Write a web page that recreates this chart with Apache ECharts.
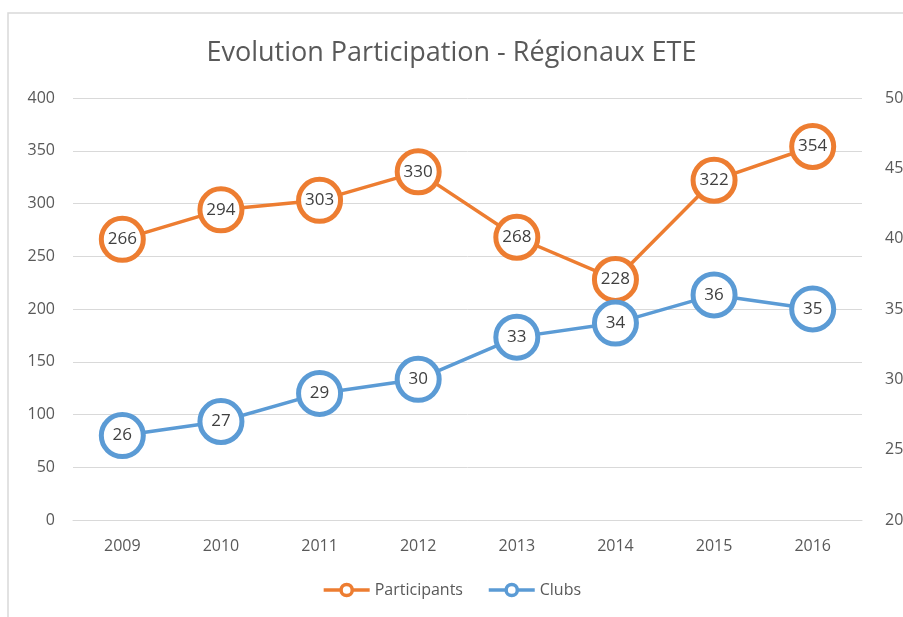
<!DOCTYPE html>
<html>
<head>
<meta charset="utf-8">
<script src="https://cdn.jsdelivr.net/npm/echarts@6/dist/echarts.min.js"></script>
<style>
  html, body { margin: 0; padding: 0; background: #fff; }
  #chart { width: 903px; height: 617px; }
</style>
</head>
<body>
<div id="chart"></div>
<script>
  // années
  var years = ['2009', '2010', '2011', '2012', '2013', '2014', '2015', '2016'];
  // nombre de participants (axe gauche)
  var participants = [266, 294, 303, 330, 268, 228, 322, 354];
  // nombre de clubs (axe droit)
  var clubs = [26, 27, 29, 30, 33, 34, 36, 35];

  var font = '"Open Sans", sans-serif';
  var txt = '#595959';

  var chart = echarts.init(document.getElementById('chart'));
  chart.setOption({
    animation: false,
    graphic: [{
      type: 'rect',
      shape: { x: 8, y: 13, width: 1000, height: 700 },
      style: { fill: 'none', stroke: '#d9d9d9', lineWidth: 1.5 },
      silent: true
    }],
    title: {
      text: 'Evolution Participation - Régionaux ETE',
      left: 'center',
      top: 35,
      textStyle: { fontFamily: font, fontSize: 27, fontWeight: 'normal', color: txt }
    },
    legend: {
      bottom: 14,
      left: 'center',
      itemWidth: 46,
      itemHeight: 14,
      itemGap: 24,
      textStyle: { fontFamily: font, fontSize: 16, color: txt },
      lineStyle: { width: 3.5 },
      itemStyle: { borderWidth: 3.5 },
      data: ['Participants', 'Clubs']
    },
    grid: { left: 73, right: 41, top: 98, bottom: 97, containLabel: false, outerBoundsMode: 'none' },
    xAxis: {
      type: 'category',
      data: years,
      boundaryGap: true,
      axisLine: { lineStyle: { color: '#d9d9d9' } },
      axisTick: { show: false },
      axisLabel: { fontFamily: font, fontSize: 16, color: txt, margin: 18 }
    },
    yAxis: [{
      type: 'value',
      min: 0, max: 400, interval: 50,
      axisLine: { show: false },
      axisTick: { show: false },
      splitLine: { lineStyle: { color: '#d9d9d9' } },
      axisLabel: { fontFamily: font, fontSize: 16, color: txt, margin: 18 }
    }, {
      type: 'value',
      min: 20, max: 50, interval: 5,
      axisLine: { show: false },
      axisTick: { show: false },
      splitLine: { show: false },
      axisLabel: { fontFamily: font, fontSize: 16, color: txt, margin: 23 }
    }],
    series: [{
      name: 'Participants',
      type: 'line',
      yAxisIndex: 0,
      data: participants,
      symbol: 'circle',
      symbolSize: 42,
      lineStyle: { color: '#ED7D31', width: 3.5 },
      itemStyle: { color: '#fff', borderColor: '#ED7D31', borderWidth: 5 },
      label: { show: true, position: 'inside', fontFamily: font, fontSize: 17, color: '#404040' },
      z: 3
    }, {
      name: 'Clubs',
      type: 'line',
      yAxisIndex: 1,
      data: clubs,
      symbol: 'circle',
      symbolSize: 42,
      lineStyle: { color: '#5B9BD5', width: 3.5 },
      itemStyle: { color: '#fff', borderColor: '#5B9BD5', borderWidth: 5 },
      label: { show: true, position: 'inside', fontFamily: font, fontSize: 17, color: '#404040' },
      z: 3
    }]
  });
</script>
</body>
</html>
